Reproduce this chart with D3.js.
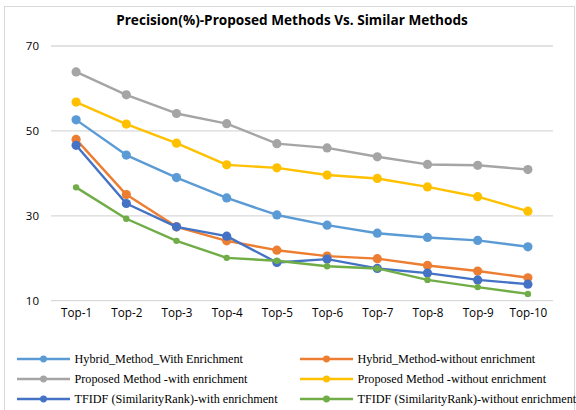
<!DOCTYPE html>
<html>
<head>
<meta charset="utf-8">
<script src="https://cdn.jsdelivr.net/npm/d3@7"></script>
<style>
  html, body { margin: 0; padding: 0; background: #fff; }
  svg { display: block; }
</style>
</head>
<body>
<svg id="chart" width="576" height="410"></svg>
<script>
// Precision at Top-k for each method
const categories = ["Top-1","Top-2","Top-3","Top-4","Top-5","Top-6","Top-7","Top-8","Top-9","Top-10"];
const seriesNames = [
  "Hybrid_Method_With Enrichment",
  "Hybrid_Method-without enrichment",
  "Proposed Method -with enrichment",
  "Proposed Method -without enrichment",
  "TFIDF (SimilarityRank)-with enrichment",
  "TFIDF (SimilarityRank)-without enrichment"
];
const hybridWith      = [52.6, 44.3, 39.0, 34.2, 30.2, 27.8, 25.9, 24.9, 24.2, 22.7];
const hybridWithout   = [48.0, 35.0, 27.4, 24.1, 21.9, 20.5, 19.9, 18.3, 17.0, 15.4];
const proposedWith    = [63.9, 58.5, 54.1, 51.7, 47.0, 46.0, 43.9, 42.1, 41.9, 40.9];
const proposedWithout = [56.8, 51.6, 47.1, 42.0, 41.3, 39.6, 38.8, 36.8, 34.5, 31.1];
const tfidfWith       = [46.6, 32.9, 27.4, 25.2, 19.0, 19.8, 17.6, 16.5, 14.9, 13.9];
const tfidfWithout    = [36.7, 29.3, 24.1, 20.1, 19.4, 18.1, 17.6, 14.9, 13.2, 11.6];
const yTicks = [10, 30, 50, 70];

const colors = ["#5B9BD5", "#ED7D31", "#A5A5A5", "#FFC000", "#4472C4", "#70AD47"];
const series = [hybridWith, hybridWithout, proposedWith, proposedWithout, tfidfWith, tfidfWithout]
  .map((values, i) => ({ name: seriesNames[i], values, color: colors[i], r: i === 5 ? 3.2 : 4.6 }));

const svg = d3.select("#chart");

// chart frame
svg.append("rect")
  .attr("x", 4.5).attr("y", 6.5).attr("width", 570).attr("height", 420)
  .attr("fill", "none").attr("stroke", "#d9d9d9").attr("stroke-width", 1);

// title
svg.append("text")
  .attr("x", 292).attr("y", 25)
  .attr("text-anchor", "middle")
  .attr("font-family", "'Open Sans', sans-serif")
  .attr("font-weight", 700)
  .attr("font-size", 13.6)
  .attr("fill", "#000")
  .text("Precision(%)-Proposed Methods Vs. Similar Methods");

const x = d3.scalePoint().domain(categories).range([51, 553]).padding(0.5);
const y = d3.scaleLinear().domain([10, 70]).range([300.7, 46]);

// horizontal gridlines
svg.append("g").selectAll("line").data(yTicks).join("line")
  .attr("x1", 51).attr("x2", 553)
  .attr("y1", d => y(d)).attr("y2", d => y(d))
  .attr("stroke", "#d9d9d9").attr("stroke-width", 1.3);

// y axis labels
const yAxis = svg.append("g")
  .attr("transform", "translate(39,0)")
  .call(d3.axisLeft(y).tickValues(yTicks).tickSize(0).tickPadding(0));
yAxis.select(".domain").remove();
yAxis.selectAll("text")
  .attr("font-family", "'Open Sans', sans-serif")
  .attr("font-size", 11.5).attr("fill", "#000");

// x axis labels
const xAxis = svg.append("g")
  .attr("transform", "translate(0,309)")
  .call(d3.axisBottom(x).tickSize(0).tickPadding(0));
xAxis.select(".domain").remove();
xAxis.selectAll("text")
  .attr("font-family", "'Open Sans', sans-serif")
  .attr("font-size", 11.7).attr("fill", "#000");

// series lines and markers
const line = d3.line().x((d, i) => x(categories[i])).y(d => y(d));
const gSeries = svg.append("g");
series.forEach(s => {
  const g = gSeries.append("g");
  g.append("path")
    .attr("d", line(s.values))
    .attr("fill", "none")
    .attr("stroke", s.color)
    .attr("stroke-width", 2.4)
    .attr("stroke-linejoin", "round");
  g.selectAll("circle").data(s.values).join("circle")
    .attr("cx", (d, i) => x(categories[i]))
    .attr("cy", d => y(d))
    .attr("r", s.r)
    .attr("fill", s.color);
});

// legend: two columns, three rows
const legend = svg.append("g");
series.forEach((s, i) => {
  const col = i % 2, row = Math.floor(i / 2);
  const lx = col === 0 ? 17 : 300;
  const ly = 359 + row * 20;
  const item = legend.append("g").attr("transform", `translate(${lx},${ly})`);
  item.append("line").attr("x1", 0).attr("x2", 53).attr("y1", 0).attr("y2", 0)
    .attr("stroke", s.color).attr("stroke-width", 2.6);
  item.append("circle").attr("cx", 26.5).attr("cy", 0).attr("r", 3.4).attr("fill", s.color);
  item.append("text").attr("x", 57.5).attr("y", 0).attr("dy", "0.35em")
    .attr("font-family", "'Liberation Serif', 'Times New Roman', serif")
    .attr("font-size", 12.2).attr("fill", "#000")
    .text(s.name);
});
</script>
</body>
</html>
